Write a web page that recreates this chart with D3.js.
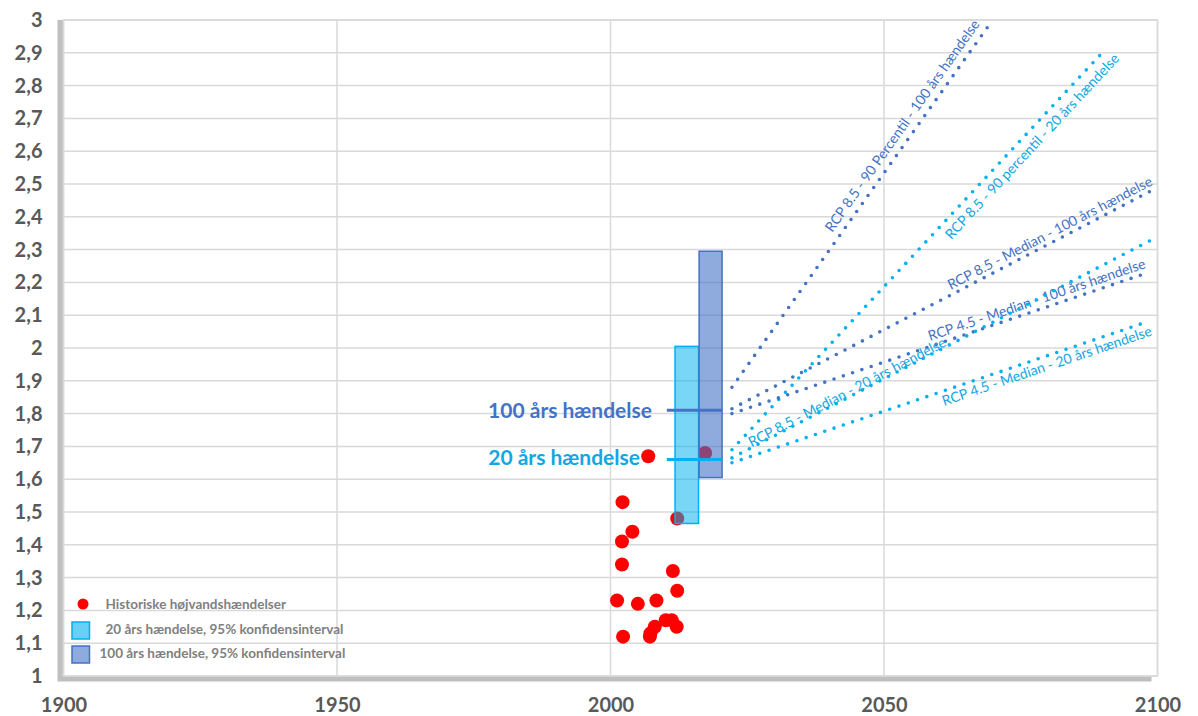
<!DOCTYPE html>
<html><head><meta charset="utf-8">
<script src="https://cdn.jsdelivr.net/npm/d3@7"></script>
<style>
body{margin:0;background:#fff}
svg{display:block}
text{font-family:Lato,"Open Sans",sans-serif}
</style>
</head><body>
<svg id="chart" width="1198" height="716"></svg>
<script>
// ---------------- DATA ----------------
const xTicks = [1900, 1950, 2000, 2050, 2100];
const yTicks = [1, 1.1, 1.2, 1.3, 1.4, 1.5, 1.6, 1.7, 1.8, 1.9, 2, 2.1, 2.2, 2.3, 2.4, 2.5, 2.6, 2.7, 2.8, 2.9, 3];

// Historiske højvandshændelser
const histYears  = [2002.2, 2012.2, 2004.0, 2002.1, 2002.1, 2011.4, 2012.2, 2001.2, 2005.0, 2008.4,
                    2010.1, 2011.2, 2008.1, 2012.1, 2007.3, 2007.2, 2002.3, 2006.9, 2017.3];
const histValues = [1.53, 1.48, 1.44, 1.41, 1.34, 1.32, 1.26, 1.23, 1.22, 1.23,
                    1.17, 1.17, 1.15, 1.15, 1.13, 1.12, 1.12, 1.67, 1.68];

// Konfidensintervaller (bars)
const barNames  = ["20 års hændelse, 95% konfidensinterval", "100 års hændelse, 95% konfidensinterval"];
const barStart  = [2011.8, 2016.2];
const barEnd    = [2016.1, 2020.4];
const barLow    = [1.465, 1.605];
const barHigh   = [2.005, 2.295];

// Hændelsesniveauer
const eventNames  = ["100 års hændelse", "20 års hændelse"];
const eventLevels = [1.81, 1.66];
const eventStart  = [2010.3, 2010.3];
const eventEnd    = [2020.4, 2020.4];

// Fremskrivninger
const projNames = [
  "RCP 8.5 - 90 Percentil - 100 års hændelse",
  "RCP 8.5 - 90 percentil - 20 års hændelse",
  "RCP 8.5 - Median - 100 års hændelse",
  "RCP 4.5 - Median - 100 års hændelse",
  "RCP 8.5 - Median - 20 års hændelse",
  "RCP 4.5 - Median - 20 års hændelse"
];
const projKind       = ["100", "20", "100", "100", "20", "20"];
const projStartYear  = [2022.2, 2022.2, 2022.2, 2022.2, 2022.2, 2022.2];
const projStartValue = [1.88, 1.69, 1.815, 1.80, 1.665, 1.65];
const projEndYear    = [2069.0, 2089.9, 2098.6, 2097.6, 2098.6, 2097.6];
const projEndValue   = [2.98, 2.90, 2.477, 2.226, 2.327, 2.077];

// ---------------- STYLE / LAYOUT ----------------
const C100 = "#4472c4", C20 = "#00b0f0", C20TXT = "#12a7e2";
const kindColor = {"100": C100, "20": C20};
const kindText  = {"100": C100, "20": C20TXT};
// label anchor (year along line) and perpendicular offset (px, + = above)
const labelAt     = [2055.2, 2075.4, 2081.1, 2078.5, 2043.7, 2079.2];
const labelOffset = [12.5, -12.5, 9.4, 10, 5.3, -9.5];

const svg = d3.select("#chart");
const x = d3.scaleLinear().domain([1900, 2100]).range([63.5, 1157.5]);
const y = d3.scaleLinear().domain([1, 3]).range([676, 20]);
const [x0, x1] = x.range(), [y1, y0] = y.range();

// shadow + plot area
svg.append("rect").attr("x", x0 - 6).attr("y", y0).attr("width", x1 - x0).attr("height", y1 - y0 + 5.5)
   .attr("fill", "#bfbfbf");
svg.append("rect").attr("x", x0).attr("y", y0).attr("width", x1 - x0).attr("height", y1 - y0)
   .attr("fill", "#fff").attr("stroke", "#d9d9d9").attr("stroke-width", 1.5);

// grid
svg.append("g").selectAll("line").data(yTicks).join("line")
   .attr("x1", x0).attr("x2", x1).attr("y1", d => y(d)).attr("y2", d => y(d))
   .attr("stroke", "#d9d9d9").attr("stroke-width", 1.5);
svg.append("g").selectAll("line").data(xTicks).join("line")
   .attr("y1", y0).attr("y2", y1).attr("x1", d => x(d)).attr("x2", d => x(d))
   .attr("stroke", "#d9d9d9").attr("stroke-width", 1.5);

// axes
const loc = d3.formatLocale({decimal: ",", thousands: ".", grouping: [3], currency: ["", ""]});
const yFmt = loc.format("~f");
const yAxis = svg.append("g").attr("transform", `translate(${x0},0)`)
   .call(d3.axisLeft(y).tickValues(yTicks).tickFormat(yFmt).tickSize(0).tickPadding(21));
const xAxis = svg.append("g").attr("transform", `translate(0,${y1})`)
   .call(d3.axisBottom(x).tickValues(xTicks).tickFormat(d3.format("d")).tickSize(0).tickPadding(22));
[yAxis, xAxis].forEach(a => {
  a.select(".domain").remove();
  a.selectAll("text").attr("font-family", "Lato, sans-serif").attr("font-weight", "bold")
   .attr("font-size", 20).attr("fill", "#595959");
});

// historical points
svg.append("g").selectAll("circle").data(histYears.map((d, i) => [d, histValues[i]])).join("circle")
   .attr("cx", d => x(d[0])).attr("cy", d => y(d[1])).attr("r", 7).attr("fill", "#ff0000");

// bars
const barFill = [C20, C100], barOpacity = [0.52, 0.6];
svg.append("g").selectAll("rect").data(barNames).join("rect")
   .attr("x", (d, i) => x(barStart[i])).attr("width", (d, i) => x(barEnd[i]) - x(barStart[i]))
   .attr("y", (d, i) => y(barHigh[i])).attr("height", (d, i) => y(barLow[i]) - y(barHigh[i]))
   .attr("fill", (d, i) => barFill[i]).attr("fill-opacity", (d, i) => barOpacity[i])
   .attr("stroke", (d, i) => barFill[i]).attr("stroke-width", 1.5);

// event levels
const eventColor = [C100, C20], eventTextColor = [C100, C20TXT];
const ev = svg.append("g");
eventNames.forEach((n, i) => {
  ev.append("line").attr("x1", x(eventStart[i])).attr("x2", x(eventEnd[i]))
    .attr("y1", y(eventLevels[i])).attr("y2", y(eventLevels[i]))
    .attr("stroke", eventColor[i]).attr("stroke-width", 3);
});
ev.append("text").attr("x", 652).attr("y", y(eventLevels[0])).attr("dy", "0.35em")
  .attr("text-anchor", "end").attr("font-weight", "bold").attr("font-size", 21)
  .attr("fill", eventTextColor[0]).text(eventNames[0]);
ev.append("text").attr("x", 640).attr("y", y(eventLevels[1]) - 2).attr("dy", "0.35em")
  .attr("text-anchor", "end").attr("font-weight", "bold").attr("font-size", 21)
  .attr("fill", eventTextColor[1]).text(eventNames[1]);

// projections
const line = d3.line().x(d => x(d[0])).y(d => y(d[1]));
const pg = svg.append("g");
projNames.forEach((name, i) => {
  const pts = [[projStartYear[i], projStartValue[i]], [projEndYear[i], projEndValue[i]]];
  pg.append("path").attr("d", line(pts)).attr("fill", "none")
    .attr("stroke", kindColor[projKind[i]]).attr("stroke-width", 3.6)
    .attr("stroke-linecap", "round").attr("stroke-dasharray", "0 9.8");
  const px0 = x(pts[0][0]), py0 = y(pts[0][1]), px1 = x(pts[1][0]), py1 = y(pts[1][1]);
  const ang = Math.atan2(py1 - py0, px1 - px0) * 180 / Math.PI;
  const t = labelAt[i];
  const v = projStartValue[i] + (projEndValue[i] - projStartValue[i]) * (t - projStartYear[i]) / (projEndYear[i] - projStartYear[i]);
  pg.append("text")
    .attr("transform", `translate(${x(t)},${y(v)}) rotate(${ang})`)
    .attr("y", -labelOffset[i]).attr("dy", "0.35em")
    .attr("text-anchor", "middle").attr("font-size", 14)
    .attr("fill", kindText[projKind[i]]).text(name);
});

// legend
const lg = svg.append("g");
lg.append("circle").attr("cx", 83).attr("cy", 604).attr("r", 5.5).attr("fill", "#ff0000");
lg.append("text").attr("x", 105.5).attr("y", 608.5).text("Historiske højvandshændelser");
lg.append("rect").attr("x", 72).attr("y", 622).attr("width", 17.5).attr("height", 17)
  .attr("fill", C20).attr("fill-opacity", 0.6).attr("stroke", C20).attr("stroke-width", 1.5);
lg.append("text").attr("x", 105.5).attr("y", 634).text(barNames[0]);
lg.append("rect").attr("x", 72).attr("y", 646).attr("width", 17.5).attr("height", 17)
  .attr("fill", C100).attr("fill-opacity", 0.6).attr("stroke", C100).attr("stroke-width", 1.5);
lg.append("text").attr("x", 99.5).attr("y", 658).text(barNames[1]);
lg.selectAll("text").attr("font-size", 13.5).attr("font-weight", "bold").attr("fill", "#808080");
</script>
</body></html>
